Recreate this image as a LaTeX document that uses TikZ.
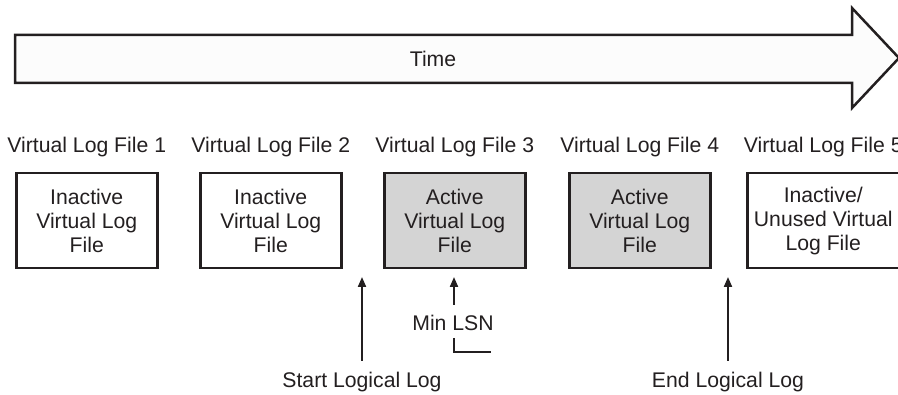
\documentclass[tikz,border=0pt]{standalone}
\usepackage{fontspec}
\setmainfont{Liberation Sans}
\usetikzlibrary{arrows.meta}
\definecolor{ink}{HTML}{231F20}
\definecolor{activegray}{HTML}{D4D4D4}
\definecolor{arrowfill}{HTML}{FCFCFC}
\begin{document}
\begin{tikzpicture}[x=1pt,y=-1pt,
  every node/.style={text=ink,font=\fontsize{21.2}{24}\selectfont},
  vlf/.style={draw=ink,line width=2.5pt,minimum width=141pt,minimum height=95pt,inner sep=0pt,align=center,anchor=north west},
  active/.style={vlf,fill=activegray},
  pointer/.style={draw=ink,line width=2pt,-{Triangle[width=8pt,length=10pt]}},
]
\useasboundingbox (0,0) rectangle (898,395);
\clip (0,0) rectangle (898,395);
% Time arrow
\draw[ink,fill=arrowfill,line width=2.5pt,line join=miter]
  (15,35) -- (852,35) -- (852,8) -- (899,58) -- (852,108) -- (852,83) -- (15,83) -- cycle;
\node (time) at (433,59) {Time};
% boxes
\node[vlf]    (b1) at (15,172)  {Inactive\\Virtual Log\\File};
\node[vlf]    (b2) at (199,172) {Inactive\\Virtual Log\\File};
\node[active] (b3) at (383,172) {Active\\Virtual Log\\File};
\node[active] (b4) at (568,172) {Active\\Virtual Log\\File};
\node[vlf,minimum width=152pt] (b5) at (746,172) {Inactive/\\Unused Virtual\\Log File};
% labels
\node (l1) at ([yshift=25pt]b1.north) {Virtual Log File 1};
\node (l2) at ([yshift=25pt]b2.north) {Virtual Log File 2};
\node (l3) at ([yshift=25pt]b3.north) {Virtual Log File 3};
\node (l4) at ([yshift=25pt]b4.north) {Virtual Log File 4};
\node (l5) at ([yshift=25pt]b5.north) {Virtual Log File 5};
% pointers
\node (start) at (362,382) {Start Logical Log};
\node (end)   at (728,382) {End Logical Log};
\node (minlsn) at (453,323) {Min LSN};
\coordinate (startTip) at (362,277);
\coordinate (endTip) at (728,277);
\coordinate (minTip) at (454,277);
\coordinate (startTail) at (362,361);
\coordinate (endTail) at (728,361);
\coordinate (minTail) at (454,305);
\draw[pointer] (startTail) -- (startTip);
\draw[pointer] (endTail) -- (endTip);
\draw[pointer] (minTail) -- (minTip);
\coordinate (lA) at (454,338);
\coordinate (lB) at (454,352);
\coordinate (lC) at (491,352);
\draw[ink,line width=2pt] (lA) -- (lB) -- (lC);
\end{tikzpicture}
\end{document}
